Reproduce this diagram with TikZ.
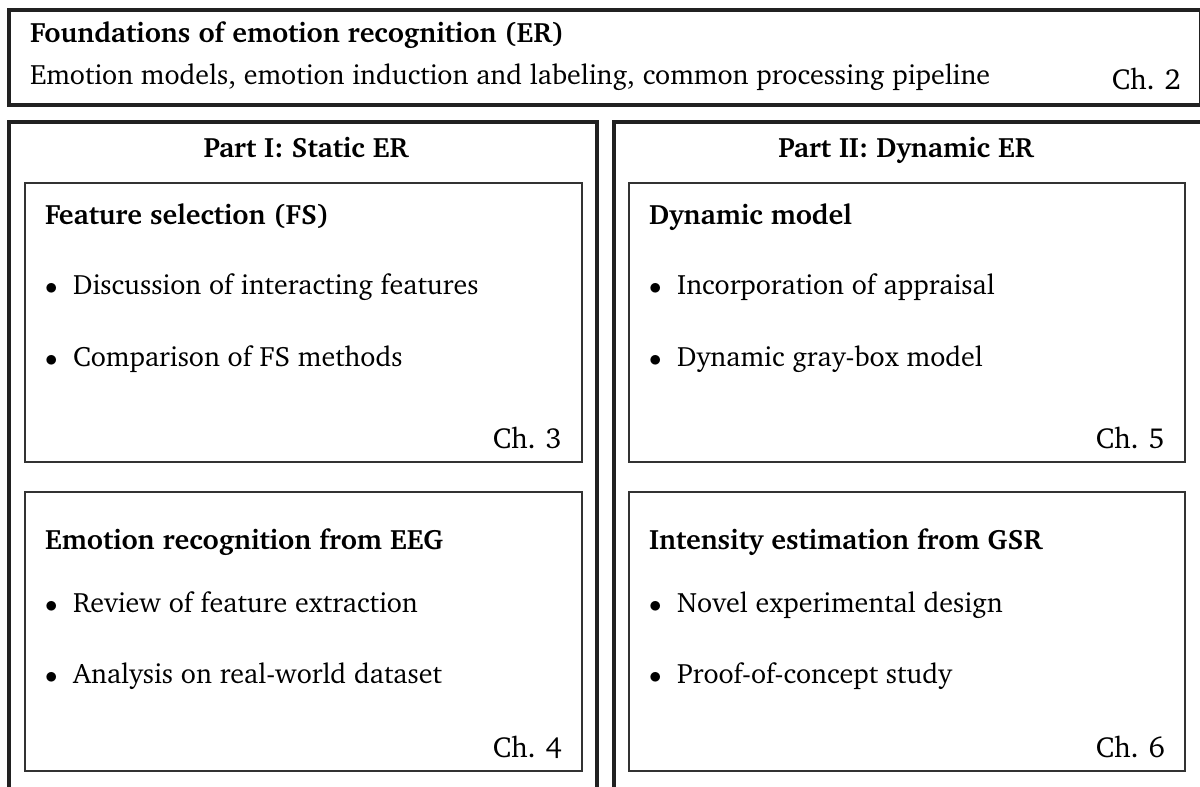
\documentclass[tikz,border=0pt]{standalone}
\usepackage[T1]{fontenc}
\usepackage{charter}
\begin{document}
\begin{tikzpicture}[x=1pt,y=-1pt]
\tikzset{
  outerbox/.style={draw=black!87, line width=4pt},
  innerbox/.style={draw=black!80, line width=2pt},
  txt/.style={font=\fontsize{28}{33}\selectfont, inner sep=0pt, anchor=base west},
  head/.style={font=\fontsize{28}{33}\selectfont\bfseries, inner sep=0pt, anchor=base west},
  parthead/.style={font=\fontsize{28}{33}\selectfont\bfseries, inner sep=0pt, anchor=base},
  chap/.style={font=\fontsize{29}{34}\selectfont, inner sep=0pt, anchor=base east},
}
\useasboundingbox (0,0) rectangle (1200,787);
\begin{scope}
\clip (0,0) rectangle (1200,787);

% overview frame
\draw[outerbox] (9,10) rectangle (1201,105);
\node[head] (found) at (30,42) {Foundations of emotion recognition (ER)};
\node[txt] (foundsub) at (30,84) {Emotion models, emotion induction and labeling, common processing pipeline};
\node[chap] (ch2) at (1181,89) {Ch. 2};

% the two parts
\draw[outerbox] (9,122) rectangle (597,810);
\draw[outerbox] (614,122) rectangle (1204,810);
\node[parthead] (p1) at (306,157) {Part I: Static ER};
\node[parthead] (p2) at (906,157) {Part II: Dynamic ER};

% Part I, chapter 3
\draw[innerbox] (25,183) rectangle (582,462);
\node[head] (fs) at (45,224) {Feature selection (FS)};
\node[txt] (fs1) at (45,294) {$\bullet$\ \ Discussion of interacting features};
\node[txt] (fs2) at (45,366) {$\bullet$\ \ Comparison of FS methods};
\node[chap] (ch3) at (562,448) {Ch. 3};

% Part I, chapter 4
\draw[innerbox] (25,492) rectangle (582,771);
\node[head] (eeg) at (45,549) {Emotion recognition from EEG};
\node[txt] (eeg1) at (45,612) {$\bullet$\ \ Review of feature extraction};
\node[txt] (eeg2) at (45,683) {$\bullet$\ \ Analysis on real-world dataset};
\node[chap] (ch4) at (562,757) {Ch. 4};

% Part II, chapter 5
\draw[innerbox] (629,183) rectangle (1185,462);
\node[head] (dm) at (649,224) {Dynamic model};
\node[txt] (dm1) at (649,294) {$\bullet$\ \ Incorporation of appraisal};
\node[txt] (dm2) at (649,366) {$\bullet$\ \ Dynamic gray-box model};
\node[chap] (ch5) at (1165,448) {Ch. 5};

% Part II, chapter 6
\draw[innerbox] (629,492) rectangle (1185,771);
\node[head] (gsr) at (649,549) {Intensity estimation from GSR};
\node[txt] (gsr1) at (649,612) {$\bullet$\ \ Novel experimental design};
\node[txt] (gsr2) at (649,683) {$\bullet$\ \ Proof-of-concept study};
\node[chap] (ch6) at (1165,757) {Ch. 6};
\end{scope}
\end{tikzpicture}
\end{document}
